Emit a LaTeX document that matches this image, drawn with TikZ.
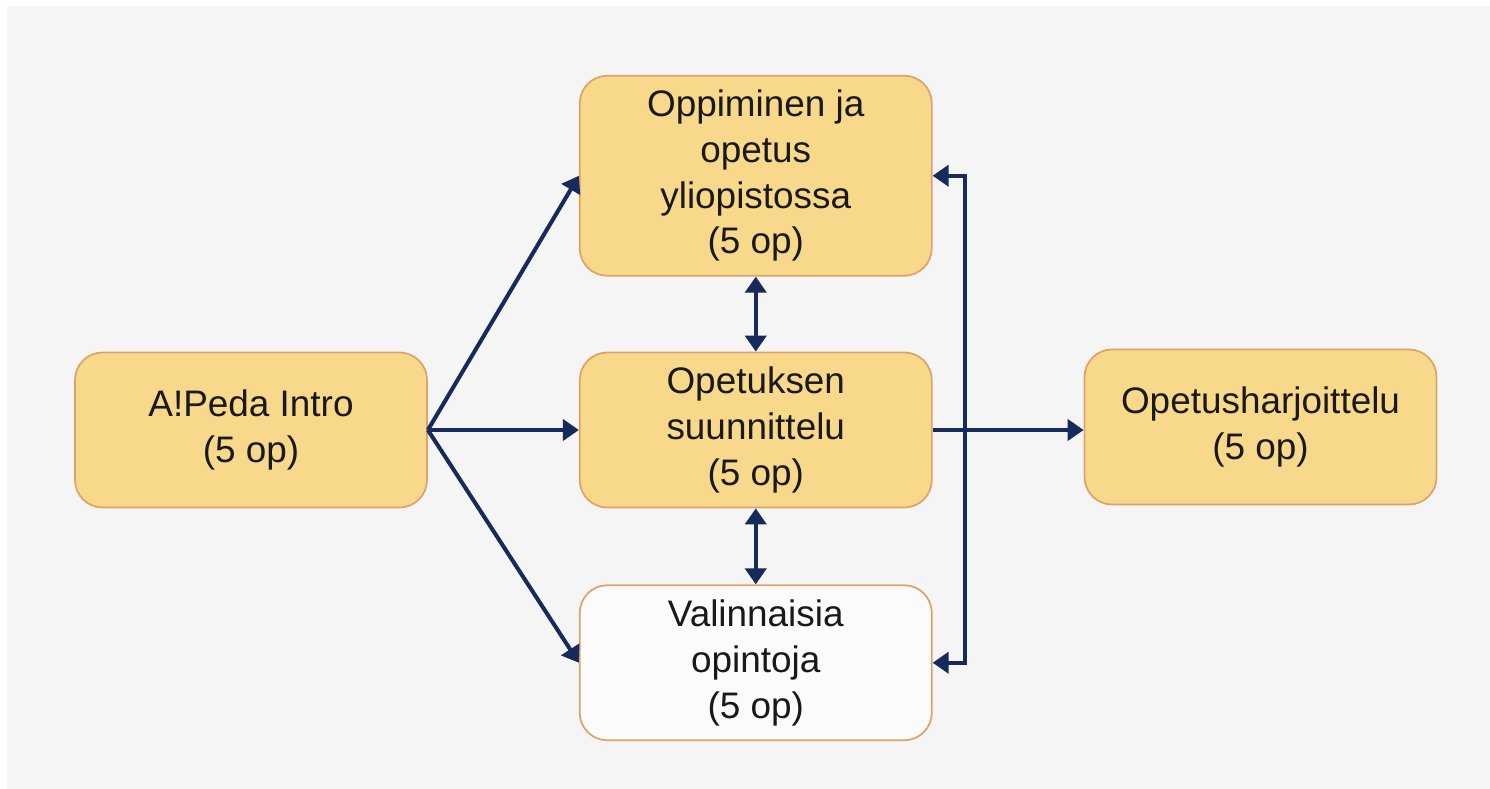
\documentclass[tikz,border=0pt]{standalone}
\usepackage{fontspec}
\setmainfont{Liberation Sans}
\usepackage{tikz}
\usetikzlibrary{arrows.meta, positioning, backgrounds}
\definecolor{boxfill}{HTML}{F8D98C}
\definecolor{boxline}{HTML}{DDA46A}
\definecolor{arrowblue}{HTML}{172A5C}
\definecolor{bggray}{HTML}{F5F5F5}

\begin{document}
\begin{tikzpicture}[
    course/.style={draw=boxline, line width=1pt, fill=boxfill, rounded corners=0.55cm,
      minimum width=7.04cm, minimum height=3.1cm, align=center,
      font=\fontsize{21}{26}\selectfont, text=black!90},
    optional/.style={course, fill=white!60!bggray},
    link/.style={draw=arrowblue, line width=2.3pt, -{Triangle[width=0.42cm,length=0.32cm]}},
    both/.style={link, {Triangle[width=0.42cm,length=0.32cm]}-{Triangle[width=0.42cm,length=0.32cm]}}
  ]
  \useasboundingbox (0,0) rectangle (29.8,-15.76);
  \fill[bggray] (0.14,-0.12) rectangle (29.9,-15.86);

  \node[course] (intro) at (5.02,-8.6) {A!Peda Intro\\(5 op)};
  \node[course, right=3.02cm of intro] (suunn) {Opetuksen\\suunnittelu\\(5 op)};
  \node[course, minimum height=4cm, above=1.5cm of suunn] (oppi) {Oppiminen ja\\opetus\\yliopistossa\\(5 op)};
  \node[optional, below=1.52cm of suunn] (valin) {Valinnaisia\\opintoja\\(5 op)};
  \node[course, right=3.02cm of suunn, yshift=0.06cm] (harj) {Opetusharjoittelu\\(5 op)};

  % from the intro course
  \draw[link] (intro.east) -- (oppi.west);
  \draw[link] (intro.east) -- (suunn.west);
  \draw[link] (intro.east) -- (valin.west);

  % between the middle courses
  \draw[both] (oppi.south) -- (suunn.north);
  \draw[both] (suunn.south) -- (valin.north);

  % on to the practice
  \draw[link] (suunn.east) -- (suunn.east -| harj.west);
  \draw[both] (oppi.east) -- ++(0.64,0) |- (valin.east);
\end{tikzpicture}
\end{document}
